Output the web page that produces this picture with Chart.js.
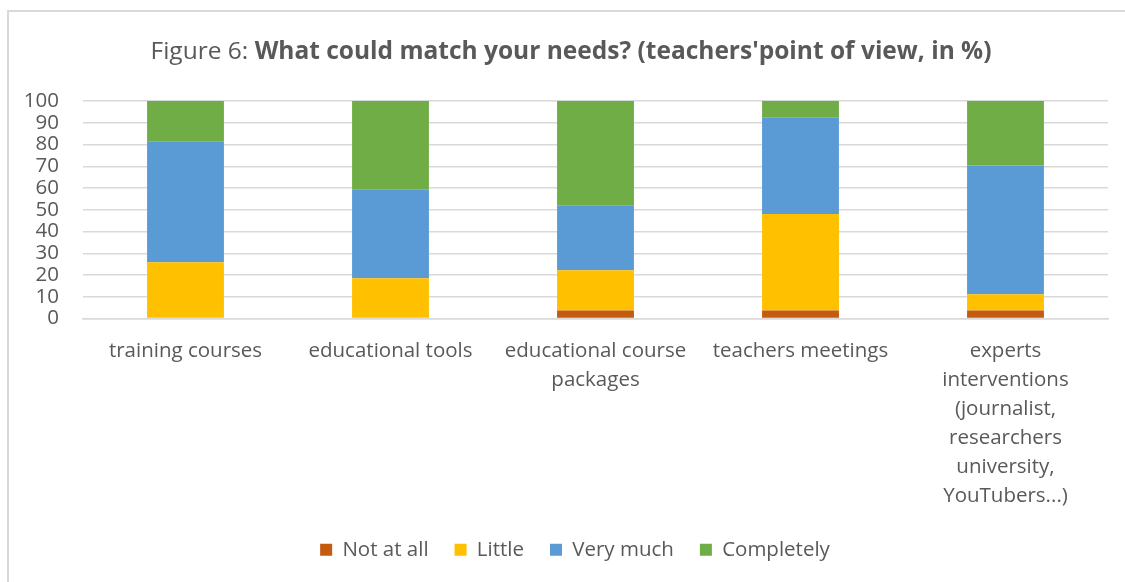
<!DOCTYPE html>
<html>
<head>
<meta charset="utf-8">
<script src="https://cdn.jsdelivr.net/npm/chart.js@4/dist/chart.umd.min.js"></script>
<style>
  html, body { margin: 0; padding: 0; background: #fff; }
  #wrap { width: 1125px; height: 582px; }
</style>
</head>
<body>
<div id="wrap"><canvas id="myChart" width="1125" height="582"></canvas></div>
<script>
const labels = [
  'training courses',
  'educational tools',
  ['educational course', 'packages'],
  'teachers meetings',
  ['experts', 'interventions', '(journalist,', 'researchers', 'university,', 'YouTubers...)']
];

const notAtAll = [0, 0, 3.7, 3.7, 3.7];
const little = [25.9, 18.5, 18.5, 44.4, 7.4];
const veryMuch = [55.6, 40.7, 29.6, 44.4, 59.3];
const completely = [18.5, 40.8, 48.2, 7.5, 29.6];

const yTicks = [0, 10, 20, 30, 40, 50, 60, 70, 80, 90, 100];

const textColor = '#595959';
const fontFamily = '"Open Sans", Lato, sans-serif';

const data = {
  labels: labels,
  datasets: [{
    label: 'Not at all',
    backgroundColor: '#C55A11',
    data: notAtAll,
  }, {
    label: 'Little',
    backgroundColor: '#FFC000',
    data: little,
  }, {
    label: 'Very much',
    backgroundColor: '#5B9BD5',
    data: veryMuch,
  }, {
    label: 'Completely',
    backgroundColor: '#70AD47',
    data: completely,
  }]
};

// frame + two-weight title, legend nudged right like the original
const decor = {
  id: 'decor',
  afterLayout(chart) {
    chart.legend.left += 21;
    chart.legend.right += 21;
  },
  afterDraw(chart) {
    const ctx = chart.ctx;
    ctx.save();
    ctx.strokeStyle = '#D9D9D9';
    ctx.lineWidth = 2;
    ctx.strokeRect(8, 11, 1200, 700);

    const part1 = 'Figure 6: ';
    const part2 = "What could match your needs? (teachers'point of view, in %)";
    ctx.fillStyle = textColor;
    ctx.textBaseline = 'middle';
    ctx.font = '24.5px ' + fontFamily;
    const w1 = ctx.measureText(part1).width;
    ctx.font = 'bold 24.5px ' + fontFamily;
    const w2 = ctx.measureText(part2).width;
    const x0 = 571 - (w1 + w2) / 2;
    ctx.font = '24.5px ' + fontFamily;
    ctx.fillText(part1, x0, 52);
    ctx.font = 'bold 24.5px ' + fontFamily;
    ctx.fillText(part2, x0 + w1, 52);
    ctx.restore();
  }
};

const config = {
  type: 'bar',
  data: data,
  options: {
    responsive: false,
    animation: false,
    layout: { padding: { left: 0, right: 17, top: 101, bottom: 12 } },
    datasets: { bar: { categoryPercentage: 1, barPercentage: 0.375 } },
    plugins: {
      title: { display: false },
      tooltip: { enabled: false },
      legend: {
        position: 'bottom',
        labels: {
          color: textColor,
          font: { family: fontFamily, size: 20.5 },
          boxWidth: 12,
          boxHeight: 12,
          padding: 26
        }
      }
    },
    scales: {
      x: {
        stacked: true,
        grid: { display: false },
        border: { color: '#D9D9D9', width: 1.5 },
        ticks: {
          color: textColor,
          font: { family: fontFamily, size: 20.5, lineHeight: 1.42 },
          maxRotation: 0,
          autoSkip: false,
          padding: 10
        },
        afterFit(s) { s.height = 195; }
      },
      y: {
        stacked: true,
        min: 0,
        max: 100,
        afterBuildTicks(s) { s.ticks = yTicks.map(v => ({ value: v })); },
        grid: { color: '#D9D9D9', lineWidth: 1.5, drawTicks: false },
        border: { display: false },
        ticks: {
          color: textColor,
          font: { family: fontFamily, size: 20.5 },
          autoSkip: false,
          padding: 24
        },
        afterFit(s) { s.width = 83; }
      }
    }
  },
  plugins: [decor]
};

const myChart = new Chart(document.getElementById('myChart'), config);
</script>
</body>
</html>
